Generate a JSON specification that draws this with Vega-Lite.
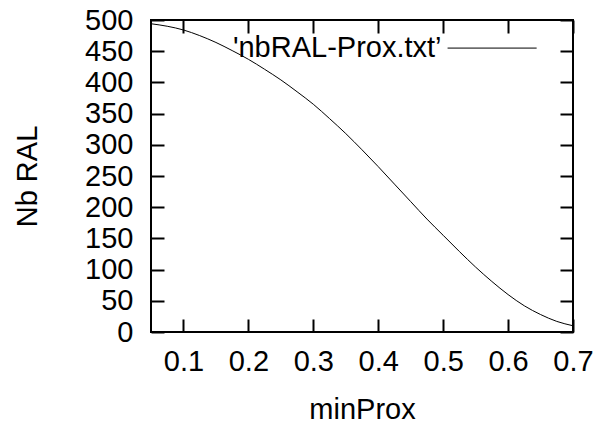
{
  "$schema": "https://vega.github.io/schema/vega-lite/v6.json",
  "width": 422,
  "height": 312,
  "autosize": "none",
  "padding": {"left": 151, "top": 20, "right": 27, "bottom": 92},
  "config": {
    "view": {"stroke": "black", "strokeWidth": 2},
    "font": "Liberation Sans",
    "axis": {
      "domain": false,
      "grid": false,
      "labelFlush": false,
      "tickColor": "black",
      "tickWidth": 2,
      "tickSize": -13,
      "labelFont": "Liberation Sans",
      "labelFontSize": 29,
      "labelColor": "black",
      "titleFont": "Liberation Sans",
      "titleFontSize": 29,
      "titleFontWeight": "normal",
      "titleColor": "black"
    }
  },
  "datasets": {
    "curve": [
      {"minProx": 0.05, "nbRAL": 494},
      {"minProx": 0.075, "nbRAL": 490},
      {"minProx": 0.1, "nbRAL": 484},
      {"minProx": 0.125, "nbRAL": 475},
      {"minProx": 0.15, "nbRAL": 464},
      {"minProx": 0.175, "nbRAL": 451},
      {"minProx": 0.2, "nbRAL": 437},
      {"minProx": 0.225, "nbRAL": 421},
      {"minProx": 0.25, "nbRAL": 404},
      {"minProx": 0.275, "nbRAL": 385},
      {"minProx": 0.3, "nbRAL": 365},
      {"minProx": 0.325, "nbRAL": 342},
      {"minProx": 0.35, "nbRAL": 318},
      {"minProx": 0.375, "nbRAL": 292},
      {"minProx": 0.4, "nbRAL": 265},
      {"minProx": 0.425, "nbRAL": 237},
      {"minProx": 0.45, "nbRAL": 209},
      {"minProx": 0.475, "nbRAL": 181},
      {"minProx": 0.5, "nbRAL": 155},
      {"minProx": 0.525, "nbRAL": 129},
      {"minProx": 0.55, "nbRAL": 104},
      {"minProx": 0.575, "nbRAL": 81},
      {"minProx": 0.6, "nbRAL": 60},
      {"minProx": 0.625, "nbRAL": 42},
      {"minProx": 0.65, "nbRAL": 28},
      {"minProx": 0.675, "nbRAL": 17},
      {"minProx": 0.7, "nbRAL": 10}
    ],
    "legend": [
      {"series": "'nbRAL-Prox.txt’", "tx": 0.4975, "sx1": 0.5068, "sx2": 0.644, "ly": 455}
    ]
  },
  "resolve": {"axis": {"x": "independent", "y": "independent"}},
  "layer": [
    {
      "data": {"name": "curve"},
      "mark": {"type": "line", "color": "black", "strokeWidth": 1, "interpolate": "monotone"},
      "encoding": {
        "x": {
          "field": "minProx",
          "type": "quantitative",
          "scale": {"domain": [0.05, 0.7], "nice": false, "zero": false},
          "axis": {
            "values": [0.1, 0.2, 0.3, 0.4, 0.5, 0.6, 0.7],
            "format": ".1f",
            "title": "minProx",
            "labelPadding": 28,
            "titleBaseline": "alphabetic",
            "titleY": 86
          }
        },
        "y": {
          "field": "nbRAL",
          "type": "quantitative",
          "scale": {"domain": [0, 500], "nice": false, "zero": false},
          "axis": {
            "values": [0, 50, 100, 150, 200, 250, 300, 350, 400, 450, 500],
            "title": "Nb RAL",
            "labelPadding": 31,
            "titleBaseline": "alphabetic",
            "titleAngle": -90,
            "titleX": -115,
            "titleY": 156
          }
        }
      }
    },
    {
      "data": {"name": "legend"},
      "mark": {"type": "text", "align": "right", "baseline": "middle", "fontSize": 29, "font": "Liberation Sans", "color": "black"},
      "encoding": {
        "x": {
          "field": "tx",
          "type": "quantitative",
          "axis": {"orient": "top", "labels": false, "title": null, "values": [0.1, 0.2, 0.3, 0.4, 0.5, 0.6, 0.7]}
        },
        "y": {
          "field": "ly",
          "type": "quantitative",
          "axis": {"orient": "right", "labels": false, "title": null, "values": [0, 50, 100, 150, 200, 250, 300, 350, 400, 450, 500]}
        },
        "text": {"field": "series"}
      }
    },
    {
      "data": {"name": "legend"},
      "mark": {"type": "rule", "color": "black", "strokeWidth": 1},
      "encoding": {
        "x": {"field": "sx1", "type": "quantitative", "axis": null},
        "x2": {"field": "sx2"},
        "y": {"field": "ly", "type": "quantitative", "axis": null}
      }
    }
  ]
}
